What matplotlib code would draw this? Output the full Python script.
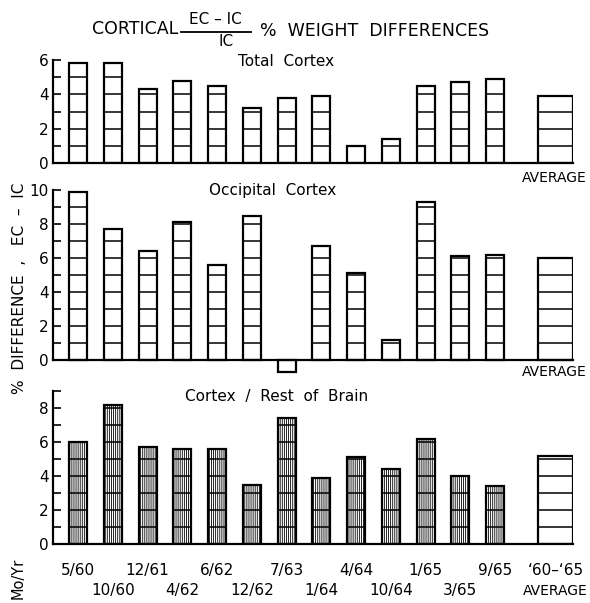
import numpy as np
import matplotlib.pyplot as plt
from matplotlib.lines import Line2D

plt.rcParams['font.family'] = 'DejaVu Sans'
plt.rcParams['hatch.linewidth'] = 0.6

# sampling dates (month/year) and the 1960-65 average
dates = ["5/60", "10/60", "12/61", "4/62", "6/62", "12/62", "7/63",
         "1/64", "4/64", "10/64", "1/65", "3/65", "9/65"]
avg_labels = ["\u201860\u2013\u201865", "AVERAGE"]

# % weight difference (EC - IC) / IC
total_cortex = [5.8, 5.8, 4.3, 4.8, 4.5, 3.2, 3.8, 3.9, 1.0, 1.4, 4.5, 4.7, 4.9]
total_cortex_avg = 3.9
occipital = [9.9, 7.7, 6.4, 8.1, 5.6, 8.5, -0.7, 6.7, 5.1, 1.2, 9.3, 6.1, 6.2]
occipital_avg = 6.0
cortex_rest = [6.0, 8.2, 5.7, 5.6, 5.6, 3.5, 7.4, 3.9, 5.1, 4.4, 6.2, 4.0, 3.4]
cortex_rest_avg = 5.2

x = np.arange(len(dates))
avg_x = len(dates) + 0.74
bw = 0.52
avg_w = 1.0

W, H = 590, 603
fig = plt.figure(figsize=(W / 100, H / 100), dpi=100)


def px(x0, y0):
    return x0 / W, 1 - y0 / H


def panel(rect, values, avg, ymin, ymax, ytop, hatch=None):
    ax = fig.add_axes(rect)
    ax.bar(x, values, width=bw, color='white', edgecolor='black',
           linewidth=1.6, hatch=hatch, zorder=2)
    ax.bar(avg_x, avg, width=avg_w, color='white', edgecolor='black',
           linewidth=1.6, zorder=2)
    # unit lines inside each bar
    for xi, v, w in list(zip(x, values, [bw] * len(values))) + [(avg_x, avg, avg_w)]:
        levels = np.arange(1, np.ceil(v))
        if len(levels):
            ax.hlines(levels, xi - w / 2, xi + w / 2, color='black',
                      linewidth=1.1, zorder=3)
    ax.set_xlim(-0.72, avg_x + avg_w / 2)
    ax.set_ylim(ymin, ymax)
    for s in ['top', 'right']:
        ax.spines[s].set_visible(False)
    ax.spines['bottom'].set_position(('data', 0))
    ax.spines['left'].set_bounds(0, ytop)
    ax.spines['left'].set_linewidth(1.6)
    ax.spines['bottom'].set_linewidth(1.6)
    ticks = np.arange(0, ytop + 1)
    ax.set_yticks(ticks, [str(t) if t % 2 == 0 else '' for t in ticks])
    ax.tick_params(axis='y', direction='in', length=6, width=1.2, pad=3,
                   labelsize=11)
    ax.set_xticks([])
    return ax


ax1 = panel([53 / W, 1 - 163 / H, 520 / W, 103 / H],
            total_cortex, total_cortex_avg, 0, 6, 6)
ax2 = panel([53 / W, 1 - 377 / H, 520 / W, 187 / H],
            occipital, occipital_avg, -1, 10, 10)
ax3 = panel([53 / W, 1 - 544 / H, 520 / W, 153 / H],
            cortex_rest, cortex_rest_avg, 0, 9, 9, hatch='||||||||')

# panel captions
fig.text(*px(286, 62), "Total  Cortex", ha='center', va='center', fontsize=11)
fig.text(*px(273, 190), "Occipital  Cortex", ha='center', va='center', fontsize=11)
fig.text(*px(277, 396), "Cortex  /  Rest  of  Brain", ha='center', va='center',
         fontsize=11)
fig.text(*px(587, 178), "AVERAGE", ha='right', va='center', fontsize=10)
fig.text(*px(587, 372), "AVERAGE", ha='right', va='center', fontsize=10)

# heading with the fraction
fig.text(*px(92, 29), "CORTICAL", ha='left', va='center', fontsize=12.5)
fig.text(*px(215, 20), "EC \u2013 IC", ha='center', va='center', fontsize=11)
fig.add_artist(Line2D([181 / W, 251 / W], [1 - 32 / H, 1 - 32 / H],
                      transform=fig.transFigure, color='black', linewidth=1.3))
fig.text(*px(226, 41), "IC", ha='center', va='center', fontsize=11)
fig.text(*px(260, 31), "%  WEIGHT  DIFFERENCES", ha='left', va='center',
         fontsize=12.5)

# axis titles
fig.text(*px(20, 288), "%  DIFFERENCE  ,   EC  \u2013  IC", rotation=90,
         ha='center', va='center', fontsize=11)
fig.text(*px(18, 578), "Mo/Yr", rotation=90, ha='center', va='center',
         fontsize=10.5)

# staggered date labels under the bottom panel
tr = ax3.get_xaxis_transform()
for i, d in enumerate(dates):
    y = -0.176 if i % 2 == 0 else -0.307
    ax3.text(x[i], y, d, transform=tr, ha='center', va='center', fontsize=11)
ax3.text(avg_x, -0.176, avg_labels[0], transform=tr, ha='center', va='center',
         fontsize=11)
ax3.text(avg_x, -0.307, avg_labels[1], transform=tr, ha='center', va='center',
         fontsize=10)

fig.savefig('out.png', dpi=100)
